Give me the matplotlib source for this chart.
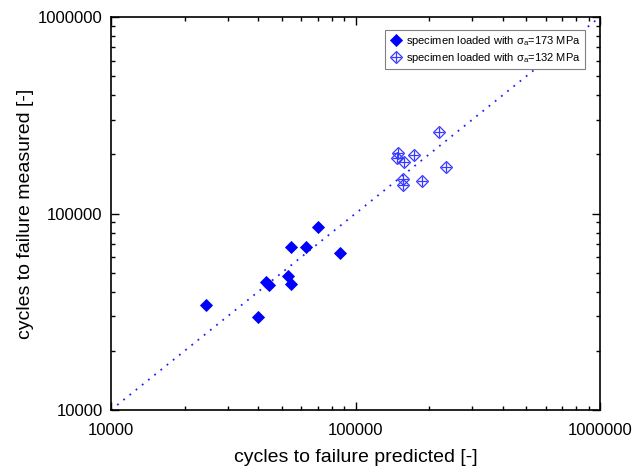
import matplotlib
matplotlib.use("Agg")
import matplotlib.pyplot as plt
from matplotlib.ticker import LogLocator, FuncFormatter, NullFormatter

plt.rcParams['font.family'] = ['Liberation Sans', 'DejaVu Sans']
plt.rcParams['mathtext.fontset'] = 'custom'
plt.rcParams['mathtext.rm'] = 'Liberation Sans'
plt.rcParams['mathtext.it'] = 'Liberation Sans:italic'

# specimens loaded with sigma_a = 173 MPa
pred_173 = [24500, 40000, 43000, 44400, 52800, 54300, 54300, 62700, 70000, 86400]
meas_173 = [34200, 29900, 44700, 43300, 48300, 43800, 67500, 67800, 85700, 62700]

# specimens loaded with sigma_a = 132 MPa
pred_132 = [219500, 149700, 148200, 173500, 157900, 235300, 156400, 156900, 187000]
meas_132 = [261000, 204000, 192300, 198500, 182200, 173000, 149300, 139700, 146300]

# 1:1 reference line
ref_line = [10000, 1000000]

label_173 = r"specimen loaded with σ$_\mathregular{a}$=173 MPa"
label_132 = r"specimen loaded with σ$_\mathregular{a}$=132 MPa"

fig = plt.figure(figsize=(6.42, 4.69), dpi=100)
ax = fig.add_axes([111 / 642, 59 / 469, 489 / 642, 393 / 469])

ax.plot(ref_line, ref_line, color='#2020ff', linewidth=1.3,
        linestyle=(0, (1, 3.4)), zorder=1)

h1, = ax.plot(pred_173, meas_173, linestyle='none', marker='D', markersize=5.8,
              color='#0000ff', markeredgewidth=0.6, zorder=3)
h2, = ax.plot(pred_132, meas_132, linestyle='none', marker='D', markersize=5.9,
              markerfacecolor='none', markeredgecolor='#3a3aff',
              markeredgewidth=0.9, zorder=3)
h3, = ax.plot(pred_132, meas_132, linestyle='none', marker='+', markersize=7.5,
              color='#3a3aff', markeredgewidth=0.9, zorder=3)

ax.set_xscale('log')
ax.set_yscale('log')
ax.set_xlim(10000, 1000000)
ax.set_ylim(10000, 1000000)

fmt = FuncFormatter(lambda v, p: f"{int(round(v))}")
for axis in (ax.xaxis, ax.yaxis):
    axis.set_major_locator(LogLocator(base=10))
    axis.set_minor_locator(LogLocator(base=10, subs=range(2, 10)))
    axis.set_major_formatter(fmt)
    axis.set_minor_formatter(NullFormatter())

ax.tick_params(which='both', direction='in', top=True, right=True,
               width=1.0, labelsize=12)
ax.tick_params(which='major', length=6)
ax.tick_params(which='minor', length=3)
ax.tick_params(axis='x', which='major', pad=9)
ax.tick_params(axis='y', which='major', pad=6)
for sp in ax.spines.values():
    sp.set_linewidth(1.2)

ax.set_xlabel("cycles to failure predicted [-]", fontsize=14, labelpad=8)
ax.set_ylabel("cycles to failure measured [-]", fontsize=14, labelpad=3)

leg = ax.legend([h1, (h2, h3)], [label_173, label_132], loc='upper right',
                fontsize=8, frameon=True, fancybox=False, edgecolor='#808080',
                framealpha=1, borderpad=0.35, handletextpad=0.3,
                labelspacing=0.3, handlelength=1.3, borderaxespad=0,
                bbox_to_anchor=(0.969, 0.967))
leg.get_frame().set_linewidth(0.8)

fig.savefig("out.png", dpi=100)
